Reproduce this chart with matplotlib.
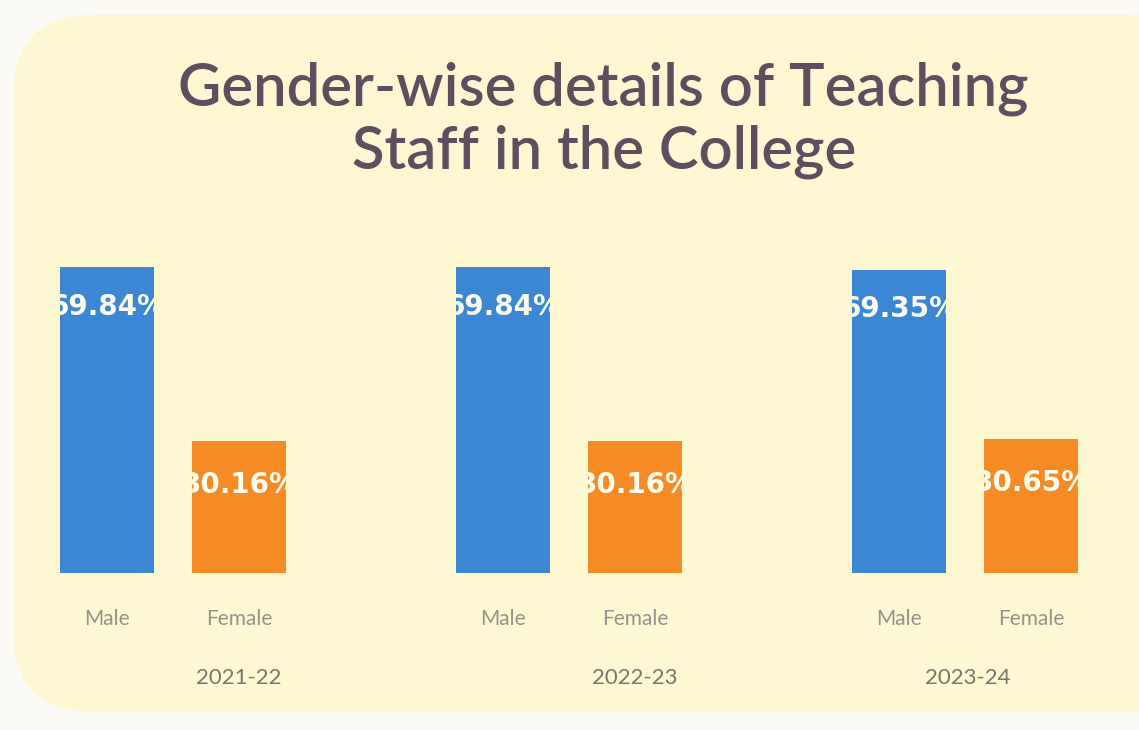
import matplotlib.pyplot as plt
from matplotlib.patches import FancyBboxPatch
from matplotlib.transforms import Bbox, TransformedBbox

# data
years = ["2021-22", "2022-23", "2023-24"]
genders = ["Male", "Female"]
male_pct = [69.84, 69.84, 69.35]
female_pct = [30.16, 30.16, 30.65]

blue = "#3b87d4"
orange = "#f68a24"

plt.rcParams['font.family'] = ['Lato', 'DejaVu Sans']

fig = plt.figure(figsize=(11.39, 7.3), dpi=100)
fig.patch.set_facecolor("#fbfaf4")

# pale yellow rounded panel behind the chart
panel = FancyBboxPatch((0.012, 0.025), 1.05, 0.955,
                       boxstyle="round,pad=0,rounding_size=0.07",
                       transform=fig.transFigure, facecolor="#fdf8d2",
                       edgecolor="none", zorder=-5, mutation_aspect=1.56)
fig.patches.append(panel)

ax = fig.add_axes([40 / 1139, 157 / 730, 1060 / 1139, 350 / 730])
ax.set_facecolor("none")
ax.set_zorder(2)

xs, heights, colors, ticklabels = [], [], [], []
for i in range(len(years)):
    for j, vals in enumerate([male_pct, female_pct]):
        xs.append(3 * i + j)
        heights.append(vals[i])
        colors.append(blue if j == 0 else orange)
        ticklabels.append(genders[j])

bars = ax.bar(xs, heights, width=0.71, color=colors, zorder=2)

# value labels, clipped to the bar width like in the original
for b, h in zip(bars, heights):
    drop = 9 if h > 50 else 10
    t = ax.text(b.get_x() + b.get_width() / 2, h - drop, f"{h:.2f}%",
                ha="center", va="center", color="#fbfbee", fontsize=20,
                family=["DejaVu Sans"], fontweight="bold", zorder=3)
    box = Bbox.from_extents(b.get_x(), 0, b.get_x() + b.get_width(), h)
    t.set_clip_path(None)
    t.set_clip_box(TransformedBbox(box, ax.transData))
    t.set_clip_on(True)

ax.set_xlim(-0.508, 7.52)
ax.set_ylim(0, 80)
ax.set_xticks(xs)
ax.set_xticklabels(ticklabels, fontsize=15, color="#95928c")
ax.tick_params(axis="x", length=0, pad=26)
ax.set_yticks([])
for s in ax.spines.values():
    s.set_visible(False)

year_x = [1.0, 4.0, 6.52]
for x, y in zip(year_x, years):
    ax.text(x, -24, y, ha="center", va="center", fontsize=16,
            color="#7d7470", transform=ax.transData, clip_on=False)

fig.text(0.53, 0.835, "Gender-wise details of Teaching\nStaff in the College",
         ha="center", va="center", fontsize=43, color="#5e4f5f",
         fontweight="semibold", linespacing=1.2)

fig.savefig("out.png", dpi=100, facecolor=fig.get_facecolor())
